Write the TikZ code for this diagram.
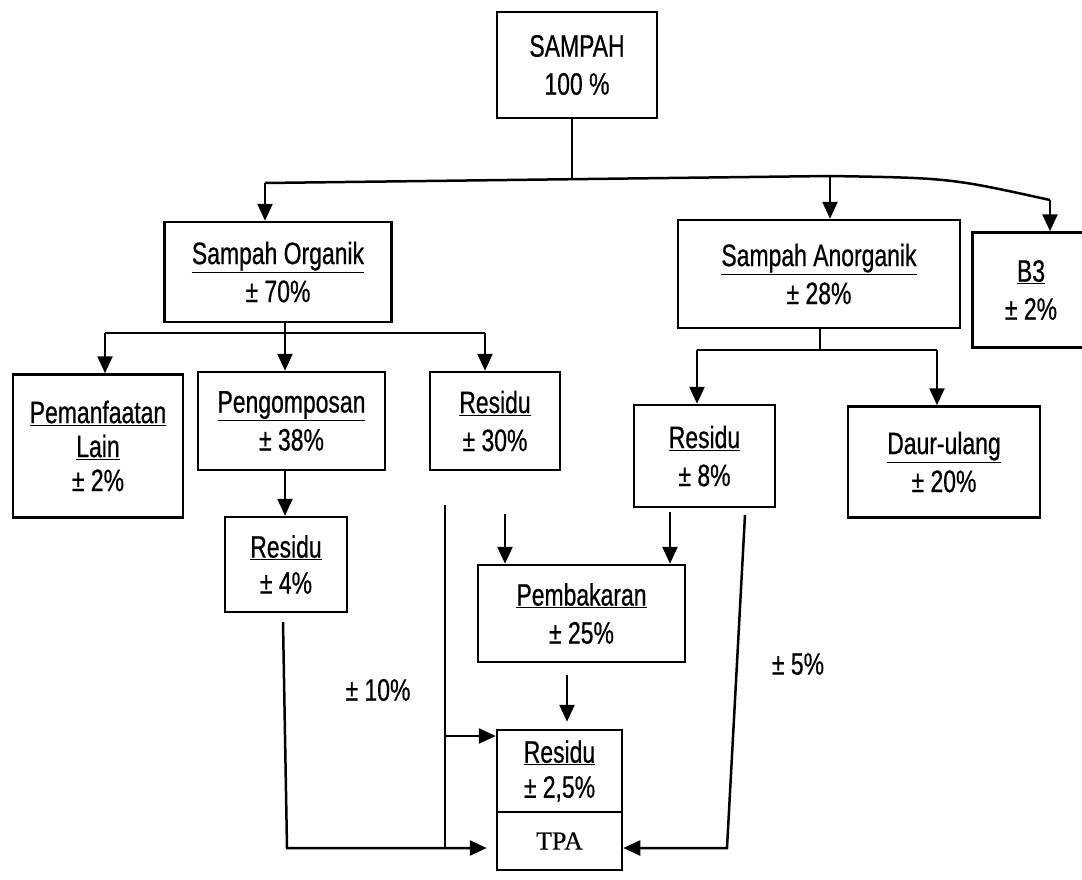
\documentclass[tikz,border=0pt]{standalone}
\usepackage{fontspec}
\setmainfont{Liberation Sans}[FakeStretch=0.74,FakeBold=0.6]
\newfontfamily\tpafont{Liberation Serif}[FakeBold=0.5]
\usetikzlibrary{arrows.meta}
\begin{document}
\begin{tikzpicture}[x=1pt,y=-1pt,
  line width=2.5pt,
  box/.style={draw,rectangle,inner sep=0pt,align=center,font=\fontsize{31}{38}\selectfont},
  arr/.style={-{Triangle[length=17pt,width=15pt]}},
  lbl/.style={font=\fontsize{31}{38}\selectfont}]
\useasboundingbox (0,0) rectangle (1082,880);
% boxes
\node[box,minimum width=160pt,minimum height=106pt] (sampah) at (577,65) {SAMPAH\\100 \%};
\node[box,minimum width=227pt,minimum height=100pt] (organik) at (278,272) {\underline{Sampah Organik}\\± 70\%};
\node[box,minimum width=282pt,minimum height=108pt] (anorganik) at (819,274) {\underline{Sampah Anorganik}\\± 28\%};
\node[box,minimum width=117pt,minimum height=115pt] (b3) at (1031,290) {\underline{B3}\\± 2\%};
\node[box,minimum width=170pt,minimum height=143pt,font=\fontsize{31}{34}\selectfont] (pemanf) at (98,446) {\underline{Pemanfaatan}\\\underline{Lain}\\± 2\%};
\node[box,minimum width=187pt,minimum height=98pt] (pengom) at (291.5,421) {\underline{Pengomposan}\\± 38\%};
\node[box,minimum width=130pt,minimum height=98pt] (res30) at (495,421) {\underline{Residu}\\± 30\%};
\node[box,minimum width=141pt,minimum height=102pt] (res8) at (704.5,456) {\underline{Residu}\\± 8\%};
\node[box,minimum width=192pt,minimum height=111pt] (daur) at (944,462) {\underline{Daur-ulang}\\± 20\%};
\node[box,minimum width=122pt,minimum height=95pt,font=\fontsize{31}{36}\selectfont] (res4) at (286,564.5) {\underline{Residu}\\± 4\%};
\node[box,minimum width=207pt,minimum height=97pt] (pemb) at (581.5,613.5) {\underline{Pembakaran}\\± 25\%};
\node[box,minimum width=125pt,minimum height=82pt,font=\fontsize{31}{35}\selectfont] (res25) at (559.5,771) {\underline{Residu}\\± 2,5\%};
\node[box,minimum width=125pt,minimum height=58pt,font=\tpafont\fontsize{26}{30}\selectfont] (tpa) at (559.5,841) {TPA};
% labels
\node[lbl] (l10) at (378,690) {± 10\%};
\node[lbl] (l5) at (798,664) {± 5\%};
% top tree
\coordinate (j0) at (572,178);
\coordinate (jl) at (265,183);
\coordinate (jm) at (830,176);
\coordinate (jr) at (1050,200);
\draw (sampah.south -| j0) -- (j0);
\draw (jl) -- (jm) .. controls (950,178) .. (jr);
\draw[arr] (jl) -- (organik.north -| jl);
\draw[arr] (jm) -- (anorganik.north -| jm);
\draw[arr] (jr) -- (b3.north -| jr);
% organik branch
\coordinate (o0) at (285,333);
\coordinate (ol) at (105,333);
\coordinate (or) at (485,333);
\draw (organik.south -| o0) -- (o0);
\draw (ol) -- (or);
\draw[arr] (ol) -- (pemanf.north -| ol);
\draw[arr] (o0) -- (pengom.north -| o0);
\draw[arr] (or) -- (res30.north -| or);
% anorganik branch
\coordinate (a0) at (820,350);
\coordinate (al) at (697,350);
\coordinate (ar) at (937,350);
\draw (anorganik.south -| a0) -- (a0);
\draw (al) -- (ar);
\draw[arr] (al) -- (res8.north -| al);
\draw[arr] (ar) -- (daur.north -| ar);
% pengomposan to residu 4
\draw[arr] (pengom.south -| o0) -- (res4.north -| o0);
% residu 4 to TPA
\coordinate (r4s) at (283,622);
\coordinate (r4c) at (287,848);
\draw[arr,shorten >=9pt] (r4s) -- (r4c) -- (tpa.west |- r4c);
% 10% line
\coordinate (v10t) at (445,505);
\coordinate (v10b) at (445,848);
\coordinate (v10m) at (445,736);
\draw (v10t) -- (v10b);
\draw[arr] (v10m) -- (res25.west |- v10m);
% into pembakaran
\coordinate (pbl) at (505,514);
\coordinate (pbr) at (670,512);
\draw[arr] (pbl) -- (pemb.north -| pbl);
\draw[arr] (pbr) -- (pemb.north -| pbr);
% pembakaran to residu 2,5
\coordinate (pbs) at (567,675);
\draw[arr,shorten >=7pt] (pbs) -- (res25.north -| pbs);
% residu 8 to TPA
\coordinate (r8s) at (745,515);
\coordinate (r8c) at (727,848);
\draw[arr] (r8s) -- (r8c) -- (tpa.east |- r8c);
\end{tikzpicture}
\end{document}
